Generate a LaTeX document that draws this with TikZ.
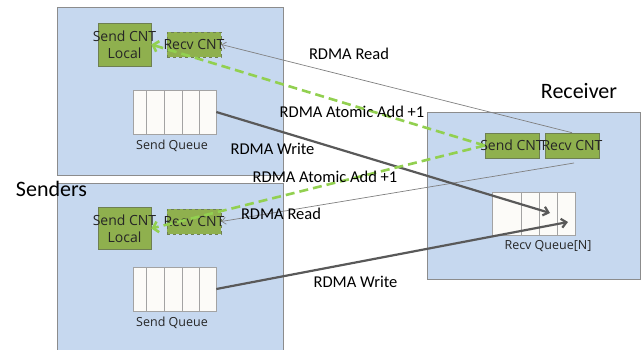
\documentclass[tikz,border=0pt]{standalone}
\usepackage{fontspec}
\setmainfont{Carlito}
\newfontfamily\boxfont{Open Sans}
\usetikzlibrary{arrows.meta}

\definecolor{hostblue}{HTML}{C6D8EF}
\definecolor{hostline}{HTML}{8C8C8C}
\definecolor{cntgreen}{HTML}{8FB04E}
\definecolor{cntline}{HTML}{6E7F52}
\definecolor{atomgreen}{HTML}{92D050}
\definecolor{cellfill}{HTML}{FCFBF8}
\definecolor{writegray}{HTML}{595959}
\definecolor{readgray}{HTML}{808080}

\begin{document}
\begin{tikzpicture}[x=1pt, y=-1pt,
    host/.style={draw=hostline, fill=hostblue, line width=0.8pt},
    cnt/.style={draw=cntline, fill=cntgreen, line width=0.6pt},
    cnttext/.style={font=\boxfont\fontsize{14}{17}\selectfont, align=center, inner sep=0pt, text=black!85},
    queue/.style={draw=hostline!80, fill=cellfill, line width=0.6pt, minimum width=83, minimum height=44},
    cell/.style={draw=hostline!80, line width=0.6pt},
    qtext/.style={font=\boxfont\fontsize{12.5}{14}\selectfont, text=black!85},
    role/.style={font=\fontsize{22}{24}\selectfont},
    rdma/.style={font=\fontsize{16.5}{18}\selectfont, anchor=base},
    readline/.style={draw=readgray, line width=0.7pt, -{Straight Barb[length=4pt,width=7pt]}},
    atomline/.style={draw=atomgreen, line width=2.6pt, dash pattern=on 9pt off 5pt, -{Straight Barb[length=5pt,width=11pt]}},
    writeline/.style={draw=writegray, line width=2.2pt, -{Straight Barb[length=5pt,width=9pt]}}]

    \useasboundingbox (0,0) rectangle (643,349);

    % hosts
    \node[host, minimum width=226, minimum height=168] (senderA) at (170,91) {};
    \node[host, minimum width=226, minimum height=178] (senderB) at (170,272) {};
    \node[host, minimum width=213, minimum height=167] (receiver) at (533.5,195.5) {};

    \node[role] (senders) at (51.5,189) {Senders};
    \node[role] (recvname) at (579,91) {Receiver};

    % first sender
    \node[cnt, minimum width=53, minimum height=43, label={[cnttext]center:Send CNT\\Local}] (sendA) at (124.5,44.5) {};
    \node[cnt, dashed, minimum width=54, minimum height=25, label={[cnttext]center:Recv CNT}] (recvA) at (194,44.5) {};
    \node[queue] (queueA) at (174.5,112) {};
    \foreach \x in {146,164,182,199}
        \draw[cell] (\x,90) -- (\x,134);
    \node[qtext] (qlabelA) at (172,146) {Send Queue};

    % second sender
    \node[cnt, minimum width=53, minimum height=42, label={[cnttext]center:Send CNT\\Local}] (sendB) at (124.5,228.5) {};
    \node[cnt, dashed, minimum width=54, minimum height=25, label={[cnttext]center:Recv CNT}] (recvB) at (194,221.5) {};
    \node[queue] (queueB) at (174.5,289) {};
    \foreach \x in {146,164,182,199}
        \draw[cell] (\x,267) -- (\x,311);
    \node[qtext] (qlabelB) at (172,323) {Send Queue};

    % receiver
    \node[cnt, minimum width=54, minimum height=25] (rsend) at (512,145.5) {};
    \node[cnt, minimum width=54, minimum height=25] (rrecv) at (572,145.5) {};
    \node[cnttext] (rsendtext) at (rsend) {Send CNT};
    \node[cnttext] (rrecvtext) at (rrecv) {Recv CNT};
    \node[queue, minimum height=43] (rqueue) at (533.5,213.5) {};
    \foreach \x in {521,539,557}
        \draw[cell] (\x,192) -- (\x,235);
    \node[qtext] (rqlabel) at (548,246) {Recv Queue[N]};

    \coordinate (writeendA) at (550,213);
    \coordinate (writeendB) at (568,222);
    \coordinate (readstartB) at (574,163);

    % connectors
    \draw[readline] (rrecv.north) -- (recvA.east);
    \draw[readline] (readstartB) -- (recvB.east);
    \draw[writeline] (queueA.east) -- (writeendA);
    \draw[writeline] (queueB.east) -- (writeendB);
    \draw[atomline] (rsend.west) -- (sendA.east);
    \draw[atomline] (rsend.west) -- (sendB.east);

    \node[rdma] (readA) at (349,59) {RDMA Read};
    \node[rdma] (atomA) at (352,117) {RDMA Atomic Add +1};
    \node[rdma] (writeA) at (272.5,154) {RDMA Write};
    \node[rdma] (atomB) at (325,182) {RDMA Atomic Add +1};
    \node[rdma] (readB) at (281,219) {RDMA Read};
    \node[rdma] (writeB) at (355.5,287) {RDMA Write};
\end{tikzpicture}
\end{document}
